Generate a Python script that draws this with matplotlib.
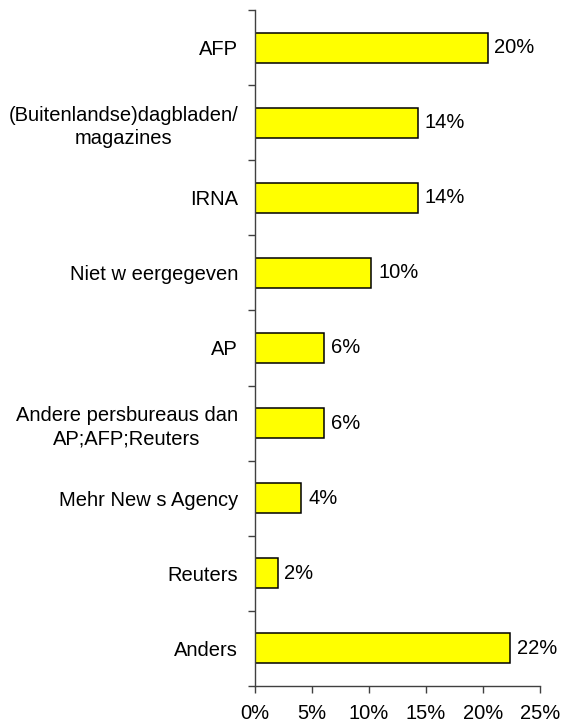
import numpy as np
from matplotlib import pyplot as plt
from matplotlib.ticker import FixedLocator

CATEGORIES = ['AFP', '(Buitenlandse)dagbladen/\nmagazines', 'IRNA', 'Niet w eergegeven', 'AP',
              'Andere persbureaus dan\nAP;AFP;Reuters', 'Mehr New s Agency', 'Reuters', 'Anders']
VALUES = [20.4, 14.3, 14.3, 10.2, 6.1, 6.1, 4.1, 2.0, 22.4]
VALUE_LABELS = ['20%', '14%', '14%', '10%', '6%', '6%', '4%', '2%', '22%']
X_TICKS = [0, 5, 10, 15, 20, 25]
X_TICK_LABELS = ['0%', '5%', '10%', '15%', '20%', '25%']

FONT_SIZE = 14.5


def main():
    plt.rcParams['font.family'] = ['Liberation Sans', 'DejaVu Sans']
    figure = plt.figure(figsize=(5.63, 7.27), dpi=100)
    axis = figure.add_axes([254.7 / 563, 1 - 686 / 727, (540 - 254.7) / 563, (686 - 10) / 727])

    positions = np.arange(len(CATEGORIES))
    axis.barh(positions, VALUES, height=0.4, color='#FFFF00', edgecolor='black', linewidth=1.1)

    for position, value, label in zip(positions, VALUES, VALUE_LABELS):
        axis.annotate(label, (value, position), xytext=(5, 0), textcoords='offset points',
                      va='center', ha='left', fontsize=FONT_SIZE, color='black')

    axis.set_xlim(0, 25)
    axis.set_ylim(len(CATEGORIES) - 0.5, -0.5)

    axis.set_xticks(X_TICKS, X_TICK_LABELS, fontsize=FONT_SIZE)
    axis.set_yticks(positions, CATEGORIES, fontsize=FONT_SIZE, multialignment='center', linespacing=1.3)
    axis.yaxis.set_minor_locator(FixedLocator(np.arange(-0.5, len(CATEGORIES), 1.0)))

    axis.tick_params(axis='y', which='major', length=0, pad=12)
    axis.tick_params(axis='y', which='minor', length=5, width=1, color='#404040')
    axis.tick_params(axis='x', length=5, width=1, color='#404040', pad=8)

    for side in ['top', 'right']:
        axis.spines[side].set_visible(False)
    for side in ['left', 'bottom']:
        axis.spines[side].set_color('#404040')
        axis.spines[side].set_linewidth(1)

    figure.savefig('out.png', dpi=100)


if __name__ == "__main__":
    main()
